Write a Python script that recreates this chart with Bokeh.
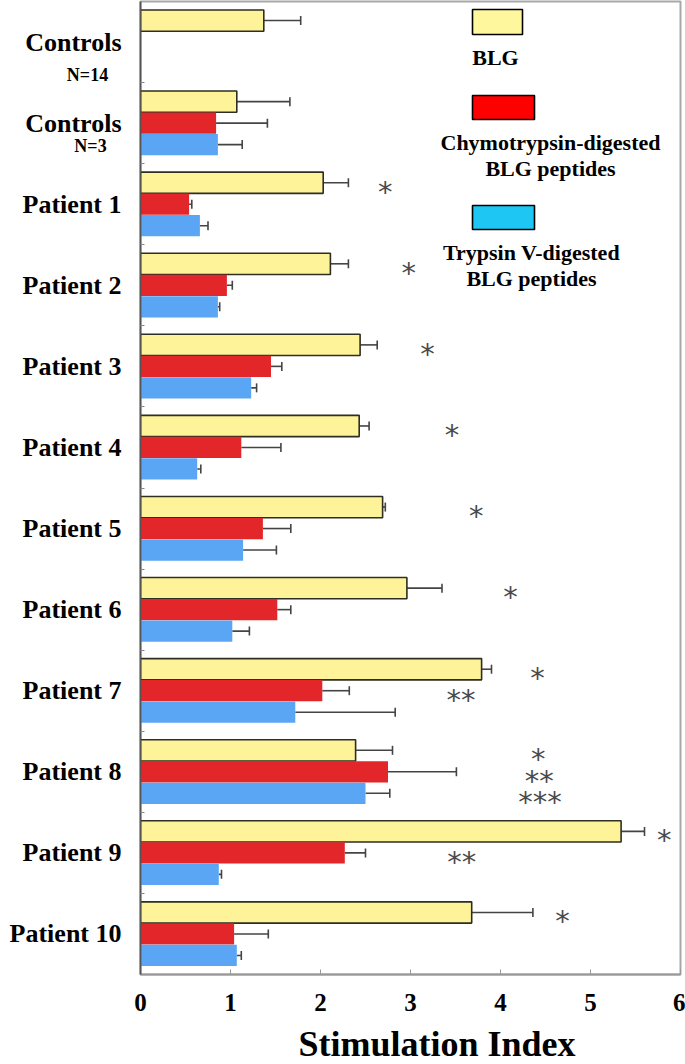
from bokeh.plotting import figure
from bokeh.layouts import row, column
from bokeh.models import (ColumnDataSource, Range1d, LinearAxis, FixedTicker, Whisker,
                          TeeHead, Label, BoxAnnotation)
from bokeh.core.properties import value
from bokeh.embed import file_html
from bokeh.resources import INLINE

# ---------------- data ----------------
groups = ["Controls", "Controls", "Patient 1", "Patient 2", "Patient 3", "Patient 4",
          "Patient 5", "Patient 6", "Patient 7", "Patient 8", "Patient 9", "Patient 10"]
group_notes = ["N=14", "N=3"]

blg = [1.37, 1.07, 2.03, 2.11, 2.44, 2.43, 2.69, 2.96, 3.79, 2.39, 5.34, 3.68]
blg_err = [0.41, 0.59, 0.28, 0.20, 0.19, 0.11, 0.03, 0.39, 0.11, 0.41, 0.26, 0.68]
chy = [None, 0.84, 0.54, 0.96, 1.45, 1.12, 1.36, 1.52, 2.02, 2.75, 2.27, 1.04]
chy_err = [None, 0.57, 0.03, 0.06, 0.12, 0.44, 0.31, 0.15, 0.30, 0.76, 0.23, 0.38]
tryp = [None, 0.86, 0.66, 0.86, 1.23, 0.63, 1.14, 1.02, 1.72, 2.50, 0.87, 1.07]
tryp_err = [None, 0.27, 0.09, 0.02, 0.06, 0.04, 0.37, 0.19, 1.11, 0.27, 0.03, 0.05]

series_names = ["BLG", "Chymotrypsin-digested\nBLG peptides", "Trypsin V-digested\nBLG peptides"]

# significance markers: (group index, series row, x position, text)
sig_group = [2, 3, 4, 5, 6, 7, 8, 8, 9, 9, 9, 10, 10, 11]
sig_row = [0, 0, 0, 0, 0, 0, 0, 1, 0, 1, 2, 0, 1, 0]
sig_x = [2.72, 2.98, 3.19, 3.46, 3.73, 4.11, 4.41, 3.56, 4.42, 4.43, 4.44, 5.82, 3.57, 4.69]
sig_text = ["*", "*", "*", "*", "*", "*", "*", "**", "*", "**", "***", "*", "**", "*"]

x_ticks = [0, 1, 2, 3, 4, 5, 6]
x_title = "Stimulation Index"

# ---------------- styles ----------------
SERIF = "Liberation Serif"
fills = ["#FFF39A", "#E2262A", "#5AA6F4"]
legend_fills = ["#FFF79E", "#FF0000", "#1EC6F3"]
offsets = [0.265, 0.0, -0.265]
bar_h = 0.262
W = 685
H_MAIN = 1025
H_TITLE = 39
LEFT_W = 125
TOP, BOTTOM = 1, 51

n = len(groups)
centers = [n - 1 - i for i in range(n)]
y_range = Range1d(-0.5, n - 0.5)

# ---------- left panel with category labels ----------
lab = figure(width=LEFT_W, height=H_MAIN, output_backend="svg", toolbar_location=None,
             x_range=Range1d(0, LEFT_W), y_range=y_range,
             x_axis_location=None, y_axis_location=None,
             min_border_left=0, min_border_right=0, min_border_top=TOP,
             min_border_bottom=BOTTOM)
lab.grid.visible = False
lab.outline_line_color = None
lab.text(x=[121] * n, y=centers, text=groups, text_align="right", text_baseline="middle",
         text_font=value(SERIF), text_font_style="bold", text_font_size="26px",
         text_color="black")
# notes under the two control labels (x in px of this panel, y offset from group centre)
lab.text(x=[87, 90], y=[centers[0] - 0.41, centers[1] - 0.28], text=group_notes,
         text_align="center", text_baseline="middle", text_font=value(SERIF),
         text_font_style="bold", text_font_size="18px", text_color="black")

# ---------- main plot ----------
p = figure(width=W - LEFT_W, height=H_MAIN, output_backend="svg", toolbar_location=None,
           x_range=Range1d(0, 6), y_range=y_range,
           x_axis_location=None, y_axis_location=None,
           min_border_left=15, min_border_right=5, min_border_top=TOP,
           min_border_bottom=BOTTOM)
p.grid.visible = False
p.outline_line_color = "#a8a8a8"
p.outline_line_width = 2

vals = [blg, chy, tryp]
errs = [blg_err, chy_err, tryp_err]
for s in range(3):
    ys, rights, his = [], [], []
    for i in range(n):
        v = vals[s][i]
        if v is None:
            continue
        ys.append(centers[i] + offsets[s])
        rights.append(v)
        his.append(v + errs[s][i])
    src = ColumnDataSource(dict(y=ys, right=rights, hi=his))
    if s == 0:
        p.hbar(y="y", left=0, right="right", height=bar_h, source=src,
               fill_color=fills[s], line_color="#2e2e22", line_width=1.6)
    else:
        p.hbar(y="y", left=0, right="right", height=bar_h, source=src,
               fill_color=fills[s], line_color=None)
    wk = Whisker(source=src, base="y", lower="right", upper="hi", dimension="width",
                 line_color="#444444", line_width=1.6, lower_head=None,
                 upper_head=TeeHead(size=9, line_color="#444444", line_width=1.6))
    p.add_layout(wk)

# significance asterisks
sig_src = ColumnDataSource(dict(
    x=sig_x,
    y=[centers[g] + offsets[r] for g, r in zip(sig_group, sig_row)],
    t=sig_text))
p.text(x="x", y="y", text="t", source=sig_src, text_align="center", text_baseline="middle",
       text_font=value("DejaVu Sans"), text_font_size="29px", text_color="#4a4a4a",
       y_offset=9)

# axes
yaxis = LinearAxis(ticker=FixedTicker(ticks=[], minor_ticks=[c + 0.5 for c in centers[1:]]))
yaxis.major_tick_line_color = None
yaxis.major_label_text_font_size = "0px"
yaxis.minor_tick_in = 4
yaxis.minor_tick_out = 0
yaxis.minor_tick_line_color = "#888888"
yaxis.axis_line_color = "#555555"
yaxis.axis_line_width = 1.8
p.add_layout(yaxis, "left")

xaxis = LinearAxis(ticker=FixedTicker(ticks=x_ticks))
xaxis.major_tick_in = 5
xaxis.major_tick_out = 0
xaxis.major_tick_line_color = "#999999"
xaxis.minor_tick_line_color = None
xaxis.axis_line_color = "#999999"
xaxis.axis_line_width = 2
xaxis.major_label_standoff = 19
xaxis.major_label_text_font = SERIF
xaxis.major_label_text_font_style = "bold"
xaxis.major_label_text_font_size = "25px"
xaxis.major_label_text_color = "black"
p.add_layout(xaxis, "below")

# helpers mapping reference pixel positions to data coordinates (for annotations only)
def dx(px):
    return (px - 140) / 90.0

def dy(py):
    return (n - 0.5) - (py - 1) / 81.08

# legend (drawn manually: swatch above centered text)
swatches = [(472, 522, 9, 34), (472, 534, 95, 119), (472, 534, 205, 229)]
text_pos = [(495, [57]), (550, [142, 168]), (531, [252, 278])]
for s in range(3):
    l, r, t, b = swatches[s]
    p.add_layout(BoxAnnotation(left=dx(l), right=dx(r), top=dy(t), bottom=dy(b),
                               fill_color=legend_fills[s], fill_alpha=1,
                               line_color="black", line_width=1.6, line_alpha=1))
    cx, lines_y = text_pos[s]
    for line, ly in zip(series_names[s].split("\n"), lines_y):
        p.add_layout(Label(x=dx(cx), y=dy(ly), text=line, text_align="center",
                           text_baseline="middle", text_font=SERIF,
                           text_font_style="bold", text_font_size="22px",
                           text_color="black"))

# ---------- x-axis title strip ----------
tfig = figure(width=W, height=H_TITLE, output_backend="svg", toolbar_location=None,
              x_range=Range1d(0, W), y_range=Range1d(H_TITLE, 0),
              x_axis_location=None, y_axis_location=None,
              min_border_left=0, min_border_right=0, min_border_top=0, min_border_bottom=0)
tfig.grid.visible = False
tfig.outline_line_color = None
tfig.text(x=[298], y=[18], text=[x_title], text_align="left", text_baseline="alphabetic",
          text_font=value(SERIF), text_font_style="bold", text_font_size="36px",
          text_color="black")

layout = column(row(lab, p), tfig)
open("out.html", "w").write(file_html(layout, INLINE))
